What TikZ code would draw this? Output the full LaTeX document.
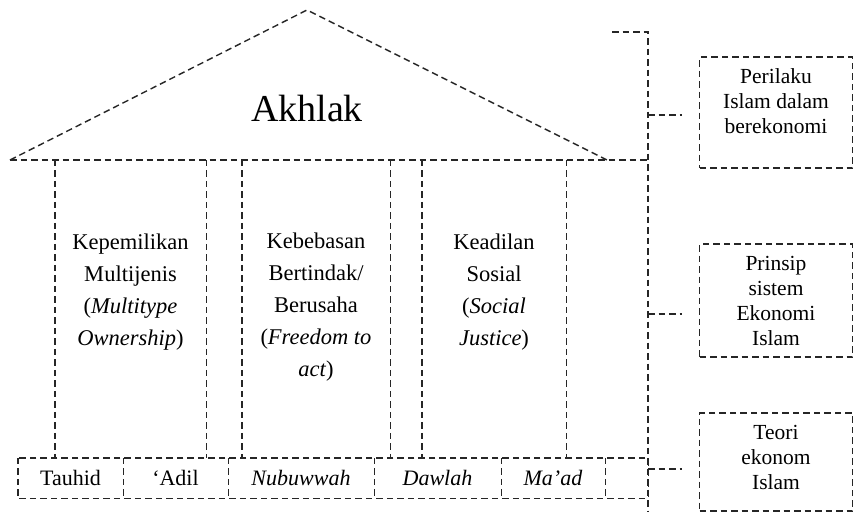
\documentclass[tikz,border=0pt]{standalone}
\usepackage{fontspec}
\setmainfont{Liberation Serif}
\begin{document}
\begin{tikzpicture}[x=1pt,y=-1pt,
  dsh/.style={draw=black!85,line width=1.4pt,dash pattern=on 6.5pt off 4pt},
  colbox/.style={rectangle,inner sep=0pt},
  coltxt/.style={align=center,inner sep=0pt,font=\fontsize{22.5}{32}\selectfont},
  cell/.style={rectangle,inner sep=0pt,minimum height=40pt,font=\fontsize{22}{24}\selectfont},
  sidebox/.style={dsh,rectangle,inner sep=0pt,minimum width=153pt},
  sidetxt/.style={align=center,inner sep=0pt,font=\fontsize{21.5}{25}\selectfont}]
\useasboundingbox (0,0) rectangle (854,512);
% roof
\coordinate (rl) at (10,160);
\coordinate (ra) at (307,10);
\coordinate (rr) at (607,160);
\coordinate (be) at (648,160);
\draw[dsh] (rl) -- (ra) -- (rr);
\draw[dsh] (rl) -- (be);
\node[font=\fontsize{38}{40}\selectfont,inner sep=0pt] (akhlak) at (307,108) {Akhlak};
% columns
\node[colbox,minimum width=151pt,minimum height=298pt] (c1) at (130.5,309) {};
\node[colbox,minimum width=148pt,minimum height=298pt] (c2) at (316,309) {};
\node[colbox,minimum width=144pt,minimum height=298pt] (c3) at (494,309) {};
\foreach \c in {c1,c2,c3}{
  \draw[dsh] (\c.north west) -- (\c.south west);
  \draw[dsh] (\c.north east) -- (\c.south east);
}
\node[coltxt] (t1) at (130.5,292) {Kepemilikan\\Multijenis\\(\textit{Multitype}\\\textit{Ownership})};
\node[coltxt] (t2) at (316,307) {Kebebasan\\Bertindak/\\Berusaha\\(\textit{Freedom to}\\\textit{act})};
\node[coltxt] (t3) at (494,292) {Keadilan\\Sosial\\(\textit{Social}\\\textit{Justice})};
% foundation
\node[cell,minimum width=105pt] (f1) at (70.5,478) {Tauhid};
\node[cell,minimum width=105pt] (f2) at (175.5,478) {‘Adil};
\node[cell,minimum width=146pt] (f3) at (301,478) {\textit{Nubuwwah}};
\node[cell,minimum width=127pt] (f4) at (437.5,478) {\textit{Dawlah}};
\node[cell,minimum width=104pt] (f5) at (553,478) {\textit{Ma’ad}};
\node[cell,minimum width=43pt] (f6) at (626.5,478) {};
\draw[dsh] (f1.north west) rectangle (f6.south east);
\foreach \f in {f1,f2,f3,f4,f5}{
  \draw[dsh] (\f.north east) -- (\f.south east);
}
% right side boxes
\node[sidebox,minimum height=111pt] (b1) at (776,112.5) {};
\node[sidetxt] (s1) at (776,101) {Perilaku\\Islam dalam\\berekonomi};
\node[sidebox,minimum height=113pt] (b2) at (776,300.5) {};
\node[sidetxt] (s2) at (776,301) {Prinsip\\sistem\\Ekonomi\\Islam};
\node[sidebox,minimum height=98pt] (b3) at (776,462) {};
\node[sidetxt] (s3) at (776,457) {Teori\\ekonom\\Islam};
% bracket
\coordinate (bt) at (612,32);
\coordinate (bc) at (648,32);
\coordinate (bb) at (648,512);
\draw[dsh] (bt) -- (bc) -- (bb);
\coordinate (j1) at (648,115);
\coordinate (j2) at (648,314);
\coordinate (j3) at (648,469);
\draw[dsh] (j1) -- ([xshift=-17pt]b1.west |- j1);
\draw[dsh] (j2) -- ([xshift=-17pt]b2.west |- j2);
\draw[dsh] (j3) -- ([xshift=-17pt]b3.west |- j3);
\end{tikzpicture}
\end{document}
